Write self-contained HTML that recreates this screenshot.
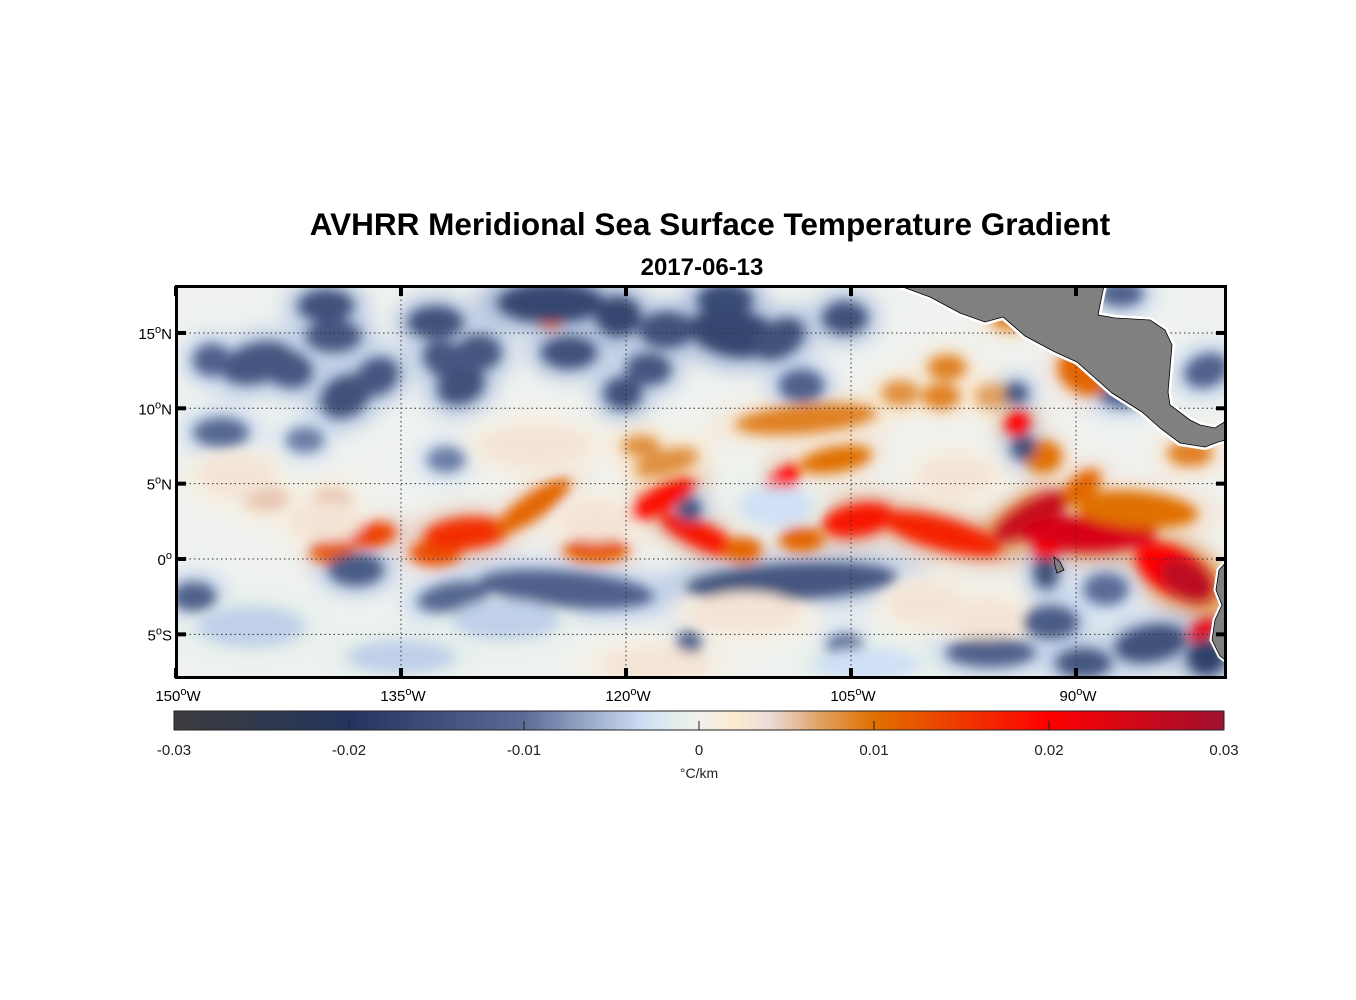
<!DOCTYPE html>
<html><head><meta charset="utf-8"><style>
body{margin:0;background:#fff;}
svg{display:block;font-family:"Liberation Sans",sans-serif;}
</style></head><body>
<svg id="chart" width="1356" height="1000" viewBox="0 0 1356 1000">
<defs>
<filter id="blur" x="-20%" y="-20%" width="140%" height="140%"><feGaussianBlur stdDeviation="6"/></filter>
<filter id="blur2" x="-20%" y="-20%" width="140%" height="140%"><feGaussianBlur stdDeviation="10"/></filter>
<clipPath id="mapclip"><rect x="176" y="286" width="1050" height="392"/></clipPath>
<linearGradient id="cbgrad" x1="0" x2="1" y1="0" y2="0"></linearGradient>
</defs>
<text x="710" y="235" text-anchor="middle" font-size="31.5" font-weight="bold">AVHRR Meridional Sea Surface Temperature Gradient</text>
<text x="702" y="275" text-anchor="middle" font-size="24" font-weight="bold">2017-06-13</text>
<g clip-path="url(#mapclip)">
<rect x="176" y="286" width="1050" height="392" fill="#eff2ef"/>
<g id="halos" filter="url(#blur2)"></g>
<g id="blobs" filter="url(#blur)"></g>
<g id="grid"></g>
<path d="M900,286 L930,297 L960,313 L985,322 L1003,317 L1025,336 L1055,352 L1077,362 L1112,393 L1142,412 L1160,428 L1180,443 L1205,447 L1218,442 L1226,440 L1226,421 L1215,428 L1200,425 L1190,420 L1170,405 L1168,392 L1172,345 L1165,330 L1150,320 L1115,318 L1098,315 L1102,295 L1104,286 Z" fill="#808080" stroke="#fff" stroke-width="6"/>
<path d="M900,286 L930,297 L960,313 L985,322 L1003,317 L1025,336 L1055,352 L1077,362 L1112,393 L1142,412 L1160,428 L1180,443 L1205,447 L1218,442 L1226,440 L1226,421 L1215,428 L1200,425 L1190,420 L1170,405 L1168,392 L1172,345 L1165,330 L1150,320 L1115,318 L1098,315 L1102,295 L1104,286 Z" fill="#808080" stroke="#000" stroke-width="0.8"/>
<path d="M1228,560 L1219,570 L1216,590 L1222,605 L1215,620 L1212,640 L1220,656 L1228,662 Z" fill="#808080" stroke="#fff" stroke-width="5"/>
<path d="M1228,560 L1219,570 L1216,590 L1222,605 L1215,620 L1212,640 L1220,656 L1228,662 Z" fill="#808080" stroke="#000" stroke-width="0.8"/>
<path d="M1054,557 L1060,562 L1064,570 L1057,573 L1055,566 Z" fill="#808080" stroke="#000" stroke-width="0.8"/>
</g>
<g id="axes"></g>
<rect x="176.5" y="286.5" width="1049" height="391" fill="none" stroke="#000" stroke-width="3"/>
<g id="colorbar"></g>
<text x="699" y="778" text-anchor="middle" font-size="14" fill="#222">°C/km</text>
</svg>
<script>
// ---- data ----
const blobLon = [-139.6,-136.9,-132.7,-130.6,-126.2,-122,-117.6,-114.9,-110.1,-112.2,-108.3,-104.5,-108,-106,-117.3,-119,-144,-139.6,-125,
 -99,-92.8,-89.6,-89.1,-86,-83.5,-82.6,-92,-93.9,-89.5,-98.6,-99,-95.5,-92.2,-82.4,-81.5,-94.4,-101.7,
 -138,-124,-109,-131.5,-148.8,-140,-139.5,-144.6,-142.5,-147.6,-138.7,-136.6,-132.7,-132,-131,-129.8,-125,-123.8,-120.5,-120.2,-117.3,-113.4,-112.8,-118.5,-109.8,-108.3,-105.4,-147,-141.4,-132,-115.8,-115.8,-105.4,
 -93.5,-94,-86.9,-81.3,-87,-92,-91.7,-85,-95.7,-89.5,-81.3,-88,
 -145,-128,-112,-100,-135,-118,-104,-146,-126,-98,-140,-122,-110,-96];
const blobLat = [0.5,1.6,0.4,1.7,3.5,0.6,4,1.5,4.4,0.6,1.3,2.6,9.3,6.6,6.4,7.5,4,4,15.9,
 1.7,2.9,4.8,1.7,3.3,-0.8,-1.4,0.4,9,12.3,12.7,10.8,10.8,6.8,7,-4.7,15.9,11,
 -0.7,-2,-1.5,-2.5,-2.5,16.8,14.8,13,12.6,13.2,10.8,12.1,15.7,13.2,11.5,13.7,17,13.7,16.1,11,15.2,17.2,15,12.6,14.6,11.5,16,8.4,7.9,6.6,3.3,-5.6,-5.8,
 7.4,11,10.8,12.5,17.6,-0.9,-4.2,-5.6,-6.2,-6.9,-6.5,-2,
 -4.5,-4,-3.5,-3,-6.5,-7,-7,5.5,7.5,5.5,2.5,2.5,3.5,-4];
const blobRx = [1.2,1.3,1.4,2.4,2.5,1.8,2,2.6,2,1,1.2,2,4,2,1.8,1,1.2,1,0.6,
 3.5,2.5,1.2,3.8,3.5,2.3,1.6,0.6,0.6,1.5,1,1,1,1,1.2,0.4,1,1,
 1.5,5,6,2,1.2,1.5,1.5,2,1.3,1,1.4,1.2,1.5,1.3,1.3,1.2,3,1.5,1.2,1,1.5,1.5,2.5,1.2,1.5,1.2,1.2,1.5,1,1,0.6,0.6,1,
 0.6,0.6,1.2,1.2,1.2,0.6,1.5,2,2.5,1.5,1,1.2,
 3,3,3,2,3,3,3,2,3,2,2,2,2,2];
const blobRy = [0.6,0.6,0.6,0.8,0.6,0.6,0.6,0.6,0.6,0.6,0.6,0.8,0.7,0.6,0.6,0.5,0.6,0.5,0.4,
 0.8,0.7,0.6,0.9,0.9,1.1,0.9,0.5,0.6,1,0.6,0.6,0.6,0.8,0.6,0.8,0.5,0.6,
 0.8,0.9,0.9,0.7,0.7,0.8,0.8,1,0.9,0.8,1,0.9,0.8,0.9,0.9,0.9,1,0.8,1,0.8,0.9,0.8,1.2,0.8,0.9,0.8,0.8,0.7,0.6,0.6,0.6,0.6,0.6,
 0.6,0.5,0.5,0.8,0.6,0.8,0.8,0.9,0.7,0.7,0.9,0.8,
 1,1,1,1,0.8,0.8,0.8,1,1,1,1,1,1,1];
const blobAng = [0,-10,0,-5,-35,0,-30,25,-50,0,0,-10,-5,-10,-15,0,0,0,0,
 15,-30,-40,0,5,30,30,20,0,30,0,0,0,0,0,60,0,0,
 0,5,-3,-10,0,0,0,-15,15,0,-30,-30,0,30,-20,0,0,0,0,0,0,0,10,0,-30,0,0,0,0,0,0,0,0,
 0,0,0,-20,0,0,0,-10,0,0,0,0,
 0,0,0,0,0,0,0,0,0,0,0,0,0,0];
const blobVal = [0.012,0.014,0.013,0.016,0.011,0.012,0.019,0.018,0.02,0.011,0.011,0.018,0.009,0.01,0.008,0.008,0.005,0.005,0.012,
 0.017,0.026,0.011,0.024,0.01,0.02,0.027,0.02,0.02,0.011,0.009,0.009,0.007,0.01,0.009,0.022,0.009,0.008,
 -0.013,-0.012,-0.014,-0.011,-0.012,-0.015,-0.014,-0.014,-0.014,-0.012,-0.015,-0.014,-0.015,-0.014,-0.015,-0.014,-0.017,-0.015,-0.017,-0.015,-0.015,-0.016,-0.017,-0.014,-0.015,-0.012,-0.015,-0.011,-0.009,-0.009,-0.014,-0.012,-0.01,
 -0.015,-0.014,-0.012,-0.012,-0.012,-0.015,-0.013,-0.015,-0.012,-0.014,-0.018,-0.01,
 -0.004,-0.004,0.003,0.003,-0.004,0.003,-0.003,0.003,0.003,0.003,0.003,0.003,-0.003,0.003];
const lonTicks = [-150,-135,-120,-105,-90];
const lonTickLabels = ["150","135","120","105","90"];
const latTicks = [15,10,5,0,-5];
const latTickLabels = ["15","10","5","0","5"];
const latTickHemi = ["N","N","N","",'S'];
const cbTicks = [-0.03,-0.02,-0.01,0,0.01,0.02,0.03];
const cbTickLabels = ["-0.03","-0.02","-0.01","0","0.01","0.02","0.03"];

// ---- scales ----
const NS = "http://www.w3.org/2000/svg";
const xLon = lon => 176 + (lon + 150) * 15;
const yLat = lat => 559 - lat * 15.07;
const cbX = v => 174 + (v + 0.03) / 0.06 * 1050;
const cmStops = [[-0.03,[60,60,60]],[-0.02,[35,53,94]],[-0.01,[90,108,150]],[-0.005,[176,192,220]],[-0.003,[208,224,245]],[-0.001,[230,240,234]],[0,[240,240,238]],[0.002,[252,235,208]],[0.004,[236,220,220]],[0.007,[224,160,96]],[0.01,[224,112,0]],[0.02,[254,0,0]],[0.03,[160,16,48]]];
function cmap(v){
  v=Math.max(-0.03,Math.min(0.03,v));
  for(let i=0;i<cmStops.length-1;i++){
    const a=cmStops[i],b=cmStops[i+1];
    if(v<=b[0]){const t=(v-a[0])/(b[0]-a[0]);
      return 'rgb('+a[1].map((c,k)=>Math.round(c+(b[1][k]-c)*t)).join(',')+')';}
  }
  return 'rgb(160,16,48)';
}
function mk(tag,attrs,parent){const e=document.createElementNS(NS,tag);for(const k in attrs)e.setAttribute(k,attrs[k]);parent.appendChild(e);return e;}

// blobs
const hg=document.getElementById('halos');
const bg=document.getElementById('blobs');
for(let i=0;i<blobLon.length;i++){
  const cx=xLon(blobLon[i]),cy=yLat(blobLat[i]);
  const h=mk('ellipse',{cx:cx,cy:cy,rx:blobRx[i]*15*1.5+8,ry:blobRy[i]*15*1.6+8,fill:cmap(blobVal[i]*0.3),transform:'rotate('+blobAng[i]+' '+cx+' '+cy+')'},hg);
  
  
  const e=mk('ellipse',{cx:cx,cy:cy,rx:blobRx[i]*15*1.15+2,ry:blobRy[i]*15*1.2+2,fill:cmap(blobVal[i]),transform:'rotate('+blobAng[i]+' '+cx+' '+cy+')'},bg);
  
  
}
// grid
const gg=document.getElementById('grid');
lonTicks.forEach(l=>{const e=mk('line',{x1:xLon(l),x2:xLon(l),y1:286,y2:678,stroke:'#333','stroke-width':1,'stroke-dasharray':'1.5,3'},gg);
  
  });
latTicks.forEach(l=>{const e=mk('line',{x1:176,x2:1226,y1:yLat(l),y2:yLat(l),stroke:'#333','stroke-width':1,'stroke-dasharray':'1.5,3'},gg);
  
  });
// axes
const ax=document.getElementById('axes');
lonTicks.forEach((l,i)=>{const x=xLon(l);
  mk('line',{x1:x,x2:x,y1:286,y2:296,stroke:'#000','stroke-width':4},ax);
  mk('line',{x1:x,x2:x,y1:668,y2:678,stroke:'#000','stroke-width':4},ax);
  const t=mk('text',{x:x+2,y:701,'text-anchor':'middle','font-size':15},ax);
  
  
  t.innerHTML=lonTickLabels[i]+'<tspan dy="-6" font-size="11">o</tspan><tspan dy="6">W</tspan>';});
latTicks.forEach((l,i)=>{const y=yLat(l);
  mk('line',{x1:176,x2:186,y1:y,y2:y,stroke:'#000','stroke-width':4},ax);
  mk('line',{x1:1216,x2:1226,y1:y,y2:y,stroke:'#000','stroke-width':4},ax);
  const t=mk('text',{x:172,y:y+6,'text-anchor':'end','font-size':15},ax);
  
  
  t.innerHTML=latTickLabels[i]+'<tspan dy="-6" font-size="11">o</tspan><tspan dy="6">'+latTickHemi[i]+'</tspan>';});
// colorbar
const grad=document.getElementById('cbgrad');
cmStops.forEach(s=>mk('stop',{offset:((s[0]+0.03)/0.06*100)+'%','stop-color':cmap(s[0])},grad));
const cb=document.getElementById('colorbar');
const r=mk('rect',{x:174,y:711,width:1050,height:19,fill:'url(#cbgrad)',stroke:'#222','stroke-width':1},cb);


cbTicks.forEach((v,i)=>{const x=cbX(v);
  if(i>0&&i<cbTicks.length-1) mk('line',{x1:x,x2:x,y1:721,y2:730,stroke:'#222','stroke-width':1},cb);
  const t=mk('text',{x:x,y:755,'text-anchor':'middle','font-size':15,fill:'#222'},cb);
  
  
  t.textContent=cbTickLabels[i];});
</script>
</body></html>
